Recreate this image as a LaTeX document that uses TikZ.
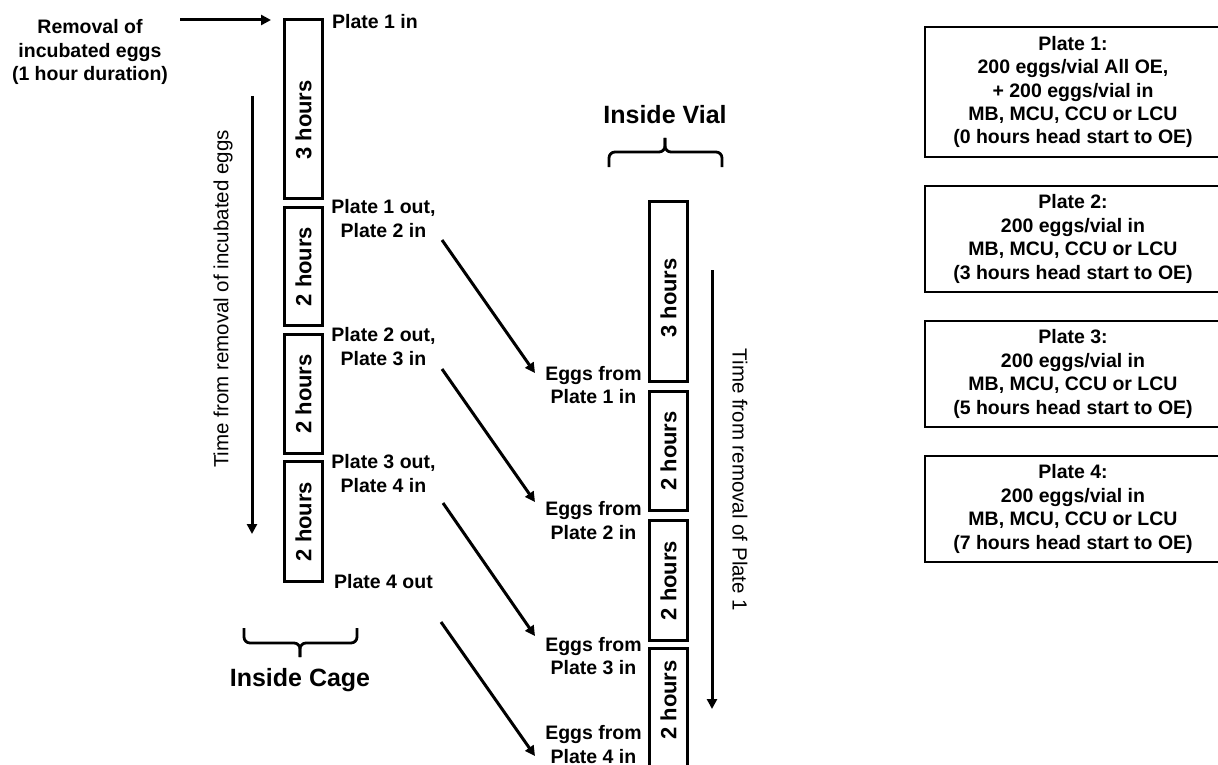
\documentclass[tikz,border=0pt]{standalone}
\usepackage{fontspec}
\setmainfont{Liberation Sans}
\usetikzlibrary{arrows.meta}
\begin{document}
\begin{tikzpicture}[x=1pt,y=-1pt,
  lbl/.style={font=\fontsize{19.5}{23.5}\selectfont\bfseries, align=center, inner sep=0pt},
  tbox/.style={draw, line width=3.2pt, minimum width=38pt, inner sep=0pt},
  boxtxt/.style={font=\fontsize{22}{26}\selectfont\bfseries, rotate=90, inner sep=0pt},
  arr/.style={line width=3pt, -{Triangle[length=10pt,width=10pt]}},
  rbox/.style={draw, line width=1.6pt, minimum width=296pt, minimum height=106pt, align=center,
    font=\fontsize{19.5}{23.4}\selectfont\bfseries, inner sep=0pt},
  bracestyle/.style={line width=2.8pt, rounded corners=6pt},
  timelbl/.style={font=\fontsize{20.5}{24}\selectfont, inner sep=0pt},
  titlelbl/.style={font=\fontsize{25}{30}\selectfont\bfseries, inner sep=0pt}]
\clip (0,0) rectangle (1218,765);
\fill[white] (0,0) rectangle (1218,765);

% cage boxes
\node[tbox, minimum height=179pt] (c1) at (303.5,109) {};
\node[tbox, minimum height=118pt] (c2) at (303.5,266.5) {};
\node[tbox, minimum height=119pt] (c3) at (303.5,394) {};
\node[tbox, minimum height=120pt] (c4) at (303.5,521.5) {};
\node[boxtxt] (c1t) at (303.5,120) {3 hours};
\node[boxtxt] (c2t) at (c2.center) {2 hours};
\node[boxtxt] (c3t) at (c3.center) {2 hours};
\node[boxtxt] (c4t) at (c4.center) {2 hours};

% vial boxes
\node[tbox, minimum height=180pt] (v1) at (668.5,291.5) {};
\node[tbox, minimum height=119pt] (v2) at (668.5,451) {};
\node[tbox, minimum height=120pt] (v3) at (668.5,580.5) {};
\node[tbox, minimum height=123pt] (v4) at (668.5,710) {};
\node[boxtxt] (v1t) at (668.5,298) {3 hours};
\node[boxtxt] (v2t) at (v2.center) {2 hours};
\node[boxtxt] (v3t) at (v3.center) {2 hours};
\node[boxtxt] (v4t) at (668.5,700) {2 hours};

% left labels
\node[lbl] (rem) at (90,52) {Removal of\\incubated eggs\\(1 hour duration)};
\node[lbl, anchor=west] (p1in) at (332,22) {Plate 1 in};
\node[lbl] (p12) at (383.5,218.5) {Plate 1 out,\\Plate 2 in};
\node[lbl] (p23) at (383.5,346.5) {Plate 2 out,\\Plate 3 in};
\node[lbl] (p34) at (383.5,473.5) {Plate 3 out,\\Plate 4 in};
\node[lbl] (p4o) at (383.5,582) {Plate 4 out};

% vial labels
\node[lbl] (e1) at (593.5,385) {Eggs from\\Plate 1 in};
\node[lbl] (e2) at (593.5,520.5) {Eggs from\\Plate 2 in};
\node[lbl] (e3) at (593.5,656) {Eggs from\\Plate 3 in};
\node[lbl] (e4) at (593.5,744.5) {Eggs from\\Plate 4 in};

% time labels
\node[timelbl, rotate=90] (tl) at (223,299) {Time from removal of incubated eggs};
\node[timelbl, rotate=-90] (tr) at (740,480) {Time from removal of Plate 1};

% titles
\node[titlelbl] (cage) at (300,680) {Inside Cage};
\node[titlelbl] (vial) at (665,115) {Inside Vial};

% braces
\draw[bracestyle] (244,628) -- (244,643) -- (300,643) -- (300,657);
\draw[bracestyle] (357,628) -- (357,643) -- (300,643) -- (300,657);
\draw[bracestyle] (609,167) -- (609,152) -- (665,152) -- (665,138);
\draw[bracestyle] (722,167) -- (722,152) -- (665,152) -- (665,138);

% right boxes
\node[rbox, minimum height=130pt] (b1) at (1073,92) {Plate 1:\\200 eggs/vial All OE,\\+ 200 eggs/vial in\\MB, MCU, CCU or LCU\\(0 hours head start to OE)};
\node[rbox] (b2) at (1073,239) {Plate 2:\\200 eggs/vial in\\MB, MCU, CCU or LCU\\(3 hours head start to OE)};
\node[rbox] (b3) at (1073,374) {Plate 3:\\200 eggs/vial in\\MB, MCU, CCU or LCU\\(5 hours head start to OE)};
\node[rbox] (b4) at (1073,509) {Plate 4:\\200 eggs/vial in\\MB, MCU, CCU or LCU\\(7 hours head start to OE)};

% arrow coordinates
\coordinate (h0) at (180,20);
\coordinate (h1) at (271,20);
\coordinate (tl0) at (252,96);
\coordinate (tl1) at (252,534);
\coordinate (tr0) at (712,270);
\coordinate (tr1) at (712,709);
\coordinate (a1s) at (442,240);
\coordinate (a1e) at (535,373);
\coordinate (a2s) at (442,369);
\coordinate (a2e) at (535,502);
\coordinate (a3s) at (443,503);
\coordinate (a3e) at (535,636);
\coordinate (a4s) at (441,622);
\coordinate (a4e) at (535,756);

\draw[arr] (h0) -- (h1);
\draw[arr] (tl0) -- (tl1);
\draw[arr] (tr0) -- (tr1);
\draw[arr] (a1s) -- (a1e);
\draw[arr] (a2s) -- (a2e);
\draw[arr] (a3s) -- (a3e);
\draw[arr] (a4s) -- (a4e);
\end{tikzpicture}
\end{document}
